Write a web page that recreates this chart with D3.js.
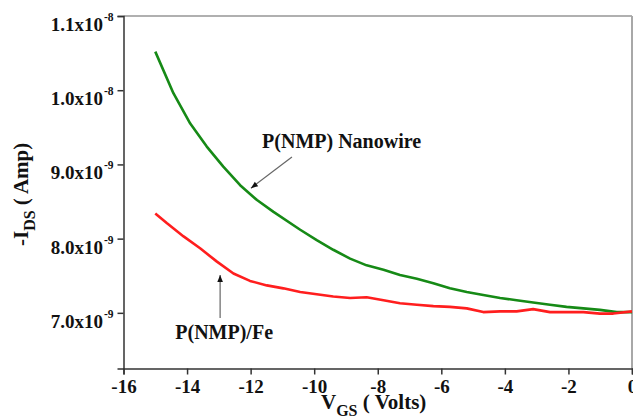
<!DOCTYPE html>
<html>
<head>
<meta charset="utf-8">
<script src="https://cdn.jsdelivr.net/npm/d3@7"></script>
<style>
  html, body { margin: 0; padding: 0; background: #fff; }
  svg { display: block; }
  text { font-family: "Liberation Serif", "Times New Roman", Times, serif; font-weight: bold; fill: #111; }
</style>
</head>
<body>
<svg id="chart" width="633" height="419"></svg>
<script>
// ---- data (x in volts, y in units of 1e-9 A) ----
const xNanowire = [-15.00,-14.43,-13.90,-13.38,-12.86,-12.33,-11.80,-11.28,-10.44,-9.92,-9.40,-8.87,-8.35,-7.82,-7.30,-6.77,-6.25,-5.73,-5.20,-4.68,-4.15,-3.63,-3.11,-2.58,-2.06,-1.53,-1.01,-0.48,0.00];
const yNanowire = [10.52,9.96,9.55,9.24,8.97,8.72,8.52,8.36,8.12,7.98,7.85,7.73,7.64,7.58,7.51,7.46,7.40,7.33,7.28,7.24,7.20,7.17,7.14,7.11,7.08,7.06,7.04,7.01,7.01];
const xFe = [-15.00,-14.64,-14.11,-13.59,-13.06,-12.54,-12.02,-11.49,-10.97,-10.44,-9.92,-9.40,-8.87,-8.35,-7.82,-7.30,-6.77,-6.25,-5.73,-5.20,-4.68,-4.15,-3.63,-3.11,-2.58,-2.06,-1.53,-1.01,-0.59,0.00];
const yFe = [8.34,8.21,8.03,7.87,7.69,7.53,7.43,7.37,7.33,7.28,7.25,7.22,7.20,7.21,7.17,7.13,7.11,7.09,7.08,7.06,7.01,7.02,7.02,7.05,7.01,7.01,7.01,6.99,6.99,7.02];

const xTicks = [-16,-14,-12,-10,-8,-6,-4,-2,0];
const xMinorTicks = [-15,-13,-11,-9,-7,-5,-3,-1];
const xTickLabels = ["-16","-14","-12","-10","-8","-6","-4","-2","0"];
const yTicks = [7,8,9,10,11];
const yMinorTicks = [6.5,7.5,8.5,9.5,10.5];
const yTickMantissa = ["7.0x10","8.0x10","9.0x10","1.0x10","1.1x10"];
const yTickExponent = ["-9","-9","-9","-8","-8"];

const seriesNames = ["P(NMP) Nanowire","P(NMP)/Fe"];
// annotation anchors in data units: [textX, textY, arrowFromX, arrowFromY, arrowToX, arrowToY]
const annNanowire = [-11.64, 9.22, -10.70, 9.10, -11.99, 8.68];
const annFe = [-14.37, 6.647, -12.96, 6.93, -12.96, 7.51];

// ---- layout ----
const W = 633, H = 419;
const margin = {left: 123.5, right: 1, top: 16, bottom: 50.5};
const svg = d3.select("#chart");

const x = d3.scaleLinear().domain([-16, 0]).range([margin.left, W - margin.right]);
const y = d3.scaleLinear().domain([6.25, 11]).range([H - margin.bottom, margin.top]);

svg.append("defs").append("marker")
  .attr("id","ah").attr("viewBox","0 0 10 10").attr("refX",10).attr("refY",5)
  .attr("markerWidth",9).attr("markerHeight",7).attr("markerUnits","userSpaceOnUse")
  .attr("orient","auto")
  .append("path").attr("d","M0,1 L10,5 L0,9 Z").attr("fill","#111");

// frame top/right (gray)
svg.append("line").attr("x1", x(-16)).attr("x2", x(0)).attr("y1", y(11)).attr("y2", y(11))
  .attr("stroke","#b0b0b0").attr("stroke-width",2);
svg.append("line").attr("x1", x(0)).attr("x2", x(0)).attr("y1", y(11)).attr("y2", y(6.25))
  .attr("stroke","#a8a8a8").attr("stroke-width",2);

// x axis
const gx = svg.append("g").attr("transform", `translate(0,${y(6.25)})`);
gx.call(d3.axisBottom(x).tickValues(xMinorTicks).tickSize(4).tickFormat(""));
gx.call(d3.axisBottom(x).tickValues(xTicks).tickSize(6).tickFormat((d,i)=>xTickLabels[i]));
gx.selectAll("path.domain").attr("stroke","#333").attr("stroke-width",1.5);
gx.selectAll(".tick line").attr("stroke","#333").attr("stroke-width",1.5);
gx.selectAll(".tick text").attr("font-size",19)
  .attr("fill","#111").attr("dy",null).attr("y",24);

// y axis
const gy = svg.append("g").attr("transform", `translate(${x(-16)},0)`);
gy.call(d3.axisLeft(y).tickValues(yMinorTicks).tickSize(5).tickFormat(""));
gy.call(d3.axisLeft(y).tickValues(yTicks).tickSize(6).tickFormat(""));
gy.selectAll("path.domain").attr("stroke","#333").attr("stroke-width",1.5);
gy.selectAll(".tick line").attr("stroke","#333").attr("stroke-width",1.5);

const yl = svg.append("g");
yTicks.forEach((v,i)=>{
  yl.append("text").attr("x", x(-16) - 20.5).attr("y", y(v) + 15)
    .attr("text-anchor","end").attr("font-size",19).text(yTickMantissa[i]);
  yl.append("text").attr("x", x(-16) - 19.5).attr("y", y(v) + 5)
    .attr("text-anchor","start").attr("font-size",11.5).text(yTickExponent[i]);
});

// lines
const line = d3.line().x(d=>x(d[0])).y(d=>y(d[1]));
svg.append("path").datum(xNanowire.map((v,i)=>[v,yNanowire[i]]))
  .attr("d", line).attr("fill","none").attr("stroke","#168a16").attr("stroke-width",2.6)
  .attr("stroke-linejoin","round");
svg.append("path").datum(xFe.map((v,i)=>[v,yFe[i]]))
  .attr("d", line).attr("fill","none").attr("stroke","#ff1e1e").attr("stroke-width",2.6)
  .attr("stroke-linejoin","round");

// annotations
function annotate(a, label){
  svg.append("line").attr("x1", x(a[2])).attr("y1", y(a[3])).attr("x2", x(a[4])).attr("y2", y(a[5]))
    .attr("stroke","#666").attr("stroke-width",1.2).attr("marker-end","url(#ah)");
  svg.append("text").attr("x", x(a[0])).attr("y", y(a[1])).attr("font-size",20).text(label);
}
annotate(annNanowire, seriesNames[0]);
annotate(annFe, seriesNames[1]);

// axis titles
const xt = svg.append("text").attr("x", 321).attr("y", 409).attr("font-size",21);
xt.append("tspan").text("V");
xt.append("tspan").attr("font-size",16).attr("dy",7).text("GS");
xt.append("tspan").attr("dy",-7).text(" ( Volts)");

const yt = svg.append("text").attr("transform","translate(28,246) rotate(-90)").attr("font-size",21);
yt.append("tspan").text("-I");
yt.append("tspan").attr("font-size",16).attr("dy",7).text("DS");
yt.append("tspan").attr("dy",-7).text(" ( Amp)");
</script>
</body>
</html>
